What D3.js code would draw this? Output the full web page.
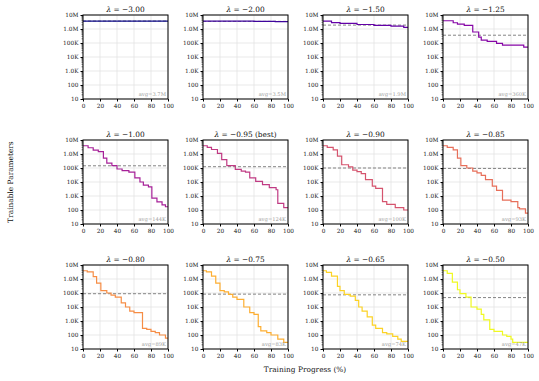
<!DOCTYPE html>
<html>
<head>
<meta charset="utf-8">
<script src="https://cdn.jsdelivr.net/npm/d3@7"></script>
<style>
    body { margin: 0; background: #fff; }
    text { font-family: "DejaVu Serif", "Liberation Serif", serif; }
</style>
</head>
<body>
<script>
// lambda per panel, and the average parameter count for the dashed line
var lambdas = [-3.00, -2.00, -1.50, -1.25, -1.00, -0.95, -0.90, -0.85, -0.80, -0.75, -0.65, -0.50];
var bestIndex = 5;
var avgValues = [3.7e6, 3.5e6, 1.9e6, 3.6e5, 1.44e5, 1.24e5, 1.0e5, 9.3e4, 8.9e4, 8.3e4, 7.4e4, 4.7e4];
var avgLabels = ['3.7M', '3.5M', '1.9M', '360K', '144K', '124K', '100K', '93K', '89K', '83K', '74K', '47K'];

var yTicks = [10, 100, 1e3, 1e4, 1e5, 1e6, 1e7];
var yTickLabels = ['10', '100', '1.0K', '10K', '100K', '1.0M', '10M'];
var xTicks = [0, 20, 40, 60, 80, 100];

// step series: [progress %, trainable params]
var sM300 = [[0, 3.7e6]];
var sM200 = [[0, 3.7e6], [30, 3.6e6], [60, 3.5e6], [85, 3.4e6]];
var sM150 = [[0, 3.7e6], [10, 2.9e6], [20, 2.5e6], [40, 2.1e6], [60, 1.8e6], [80, 1.6e6], [95, 1.3e6]];
var sM125 = [[0, 3.9e6], [12, 2.8e6], [17, 2.2e6], [25, 1.8e6], [35, 6.1e5], [42, 2.6e5], [45, 1.6e5], [52, 1.3e5],
             [63, 9.5e4], [70, 7e4], [95, 5e4]];
var sM100 = [[0, 3.9e6], [6, 2.8e6], [12, 1.9e6], [18, 1.5e6], [24, 5e5], [28, 2.2e5], [34, 1.5e5], [40, 8.5e4],
             [46, 6.5e4], [54, 5e4], [61, 2e4], [67, 1e4], [71, 6e3], [77, 4.5e3], [81, 7e2], [87, 3.8e2],
             [93, 2.3e2], [97, 1.7e2]];
var sM095 = [[0, 3.9e6], [5, 3e6], [10, 2.1e6], [17, 1.1e6], [22, 4e5], [28, 1.5e5], [38, 8e4], [45, 6e4],
             [50, 5e4], [55, 2e4], [62, 1.1e4], [70, 6.5e3], [78, 4e3], [86, 2.8e3], [88, 3e2], [95, 1.5e2]];
var sM090 = [[0, 3.9e6], [5, 3e6], [12, 2e6], [17, 7e5], [22, 1.7e5], [30, 1.2e5], [35, 7e4], [40, 5.5e4],
             [45, 4e4], [50, 1.5e4], [58, 5e3], [62, 3.5e3], [70, 4e2], [75, 2.5e2], [85, 1.5e2], [95, 1e2]];
var sM085 = [[0, 3.9e6], [5, 3e6], [12, 2e6], [17, 5e5], [21, 1.5e5], [28, 1e5], [35, 6e4], [40, 4.5e4],
             [45, 3e4], [50, 1.5e4], [58, 5e3], [63, 2.5e3], [70, 5e2], [80, 4e2], [88, 1.5e2], [90, 1.2e2],
             [97, 6e1]];
var sM080 = [[0, 3.9e6], [5, 3.2e6], [12, 1.5e6], [16, 5e5], [21, 1.5e5], [28, 1e5], [33, 7e4], [38, 5e4],
             [45, 2e4], [50, 1e4], [55, 5e3], [60, 4e3], [70, 3e2], [75, 2.5e2], [80, 1.8e2], [85, 1.5e2],
             [90, 1e2], [97, 6e1]];
var sM075 = [[0, 3.9e6], [4, 3.2e6], [10, 1.6e6], [15, 5e5], [20, 1.5e5], [25, 1.2e5], [30, 8e4], [35, 5e4],
             [40, 3.5e4], [48, 1e4], [55, 4e3], [60, 3e3], [65, 4e2], [68, 2e2], [75, 1.5e2], [80, 1e2],
             [88, 5e1], [95, 3e1]];
var sM065 = [[0, 3.9e6], [4, 3e6], [10, 1.6e6], [17, 3e5], [20, 1.5e5], [25, 8e4], [32, 6e4], [38, 3e4],
             [42, 1e4], [46, 5e3], [52, 2e3], [58, 5e2], [62, 3e2], [70, 1.5e2], [75, 1.2e2], [82, 8e1],
             [88, 5e1], [92, 3.5e1]];
var sM050 = [[0, 3.9e6], [5, 2.5e6], [11, 6e5], [17, 1.7e5], [20, 9e4], [27, 5e4], [33, 1e4], [40, 7e3],
             [45, 3e3], [48, 1.2e3], [55, 2.5e2], [60, 1.8e2], [70, 1e2], [75, 8e1], [80, 5e1], [82, 3e1]];
var seriesList = [sM300, sM200, sM150, sM125, sM100, sM095, sM090, sM085, sM080, sM075, sM065, sM050];

var colLeft = [83, 203, 323, 443],
    rowTop = [15, 140, 265],
    panelWidth = 85,
    panelHeight = 84;

var svg = d3.select('body').append('svg')
    .attr('width', 539)
    .attr('height', 381);

var x = d3.scaleLinear().domain([0, 100]).range([0, panelWidth]);
var y = d3.scaleLog().domain([10, 1e7]).range([panelHeight, 0]);

var minorTicks = [];
for (var e = 1; e < 7; e++) {
    for (var m = 2; m < 10; m++) minorTicks.push(m * Math.pow(10, e));
}

var line = d3.line()
    .curve(d3.curveStepAfter)
    .x(d => x(d[0]))
    .y(d => y(d[1]));

lambdas.forEach(function (lam, idx) {
    var g = svg.append('g')
        .attr('transform', 'translate(' + colLeft[idx % 4] + ',' + rowTop[Math.floor(idx / 4)] + ')');
    var color = d3.interpolatePlasma(idx / 11);

    // grid
    g.selectAll('.vgrid').data(xTicks).enter().append('line')
        .attr('x1', d => x(d)).attr('x2', d => x(d))
        .attr('y1', 0).attr('y2', panelHeight)
        .attr('stroke', '#e3e3e3').attr('stroke-width', 0.8);
    g.selectAll('.hgrid').data(yTicks).enter().append('line')
        .attr('x1', 0).attr('x2', panelWidth)
        .attr('y1', d => y(d)).attr('y2', d => y(d))
        .attr('stroke', '#e3e3e3').attr('stroke-width', 0.8);

    // axes
    var yAxis = d3.axisLeft(y).tickValues(yTicks)
        .tickFormat((d, i) => yTickLabels[i]).tickSize(2.5).tickPadding(2);
    var yAxisG = g.append('g').call(yAxis);
    yAxisG.select('.domain').remove();
    yAxisG.selectAll('text').attr('font-size', 5.8).attr('fill', '#222');
    yAxisG.selectAll('.minor').data(minorTicks).enter().append('line')
        .attr('x1', -1.5).attr('x2', 0)
        .attr('y1', d => y(d)).attr('y2', d => y(d))
        .attr('stroke', '#000').attr('stroke-width', 0.5);

    var xAxis = d3.axisBottom(x).tickValues(xTicks).tickSize(2.5).tickPadding(2);
    var xAxisG = g.append('g').attr('transform', 'translate(0,' + panelHeight + ')').call(xAxis);
    xAxisG.select('.domain').remove();
    xAxisG.selectAll('text').attr('font-size', 5.8).attr('fill', '#222');

    // average line
    g.append('line')
        .attr('x1', 0).attr('x2', panelWidth)
        .attr('y1', y(avgValues[idx])).attr('y2', y(avgValues[idx]))
        .attr('stroke', '#777').attr('stroke-width', 0.9)
        .attr('stroke-dasharray', '3,2');

    // step line
    var pts = seriesList[idx].slice();
    pts.push([100, pts[pts.length - 1][1]]);
    g.append('path')
        .datum(pts)
        .attr('fill', 'none')
        .attr('stroke', color)
        .attr('stroke-width', 1.2)
        .attr('d', line);

    g.append('text')
        .attr('x', panelWidth - 2).attr('y', panelHeight - 3)
        .attr('text-anchor', 'end')
        .attr('font-size', 5.2).attr('fill', '#999')
        .text('avg=' + avgLabels[idx]);

    // frame
    g.append('rect')
        .attr('width', panelWidth).attr('height', panelHeight)
        .attr('fill', 'none').attr('stroke', '#000').attr('stroke-width', 1);

    // title
    var title = g.append('text')
        .attr('x', panelWidth / 2).attr('y', -3)
        .attr('text-anchor', 'middle')
        .attr('font-size', 7.4).attr('fill', '#111');
    title.append('tspan').attr('font-style', 'italic').text('λ');
    title.append('tspan').text(' = −' + Math.abs(lam).toFixed(2) + (idx === bestIndex ? ' (best)' : ''));
});

svg.append('text')
    .attr('transform', 'translate(13,182) rotate(-90)')
    .attr('text-anchor', 'middle')
    .attr('font-size', 7.4).attr('fill', '#111')
    .text('Trainable Parameters');

svg.append('text')
    .attr('x', 305).attr('y', 372)
    .attr('text-anchor', 'middle')
    .attr('font-size', 7.4).attr('fill', '#111')
    .text('Training Progress (%)');
</script>
</body>
</html>
